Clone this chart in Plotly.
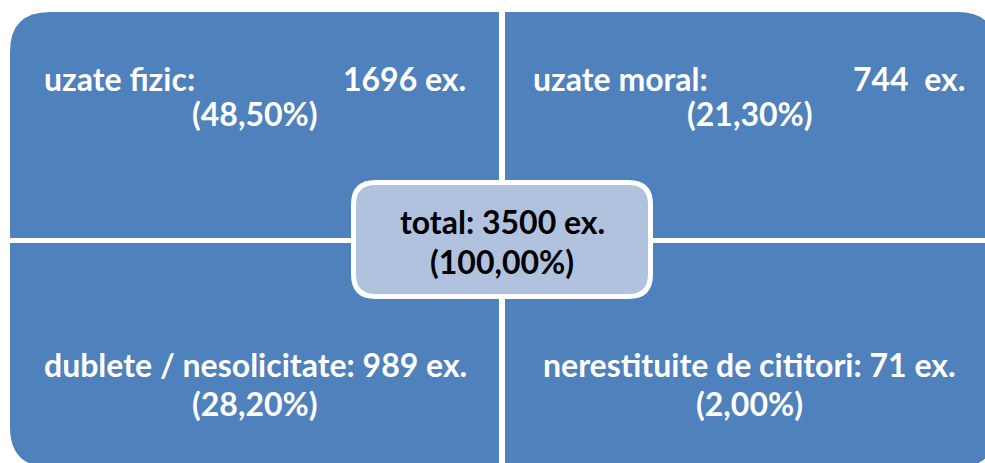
import plotly.graph_objects as go

# ---- data ----
labels = ["uzate fizic:", "uzate moral:", "dublete / nesolicitate:", "nerestituite de cititori:"]
counts = [1696, 744, 989, 71]
percents = [48.50, 21.30, 28.20, 2.00]
total_label = "total:"
total_count = 3500
total_percent = 100.00

W, H = 985, 463
BLUE = "#4F81BD"
CENTER_FILL = "#B0C2DE"
FONT = "Lato"
FS = 32


def fmt_pct(p):
    return "(" + f"{p:.2f}".replace(".", ",") + "%)"


def rounded_rect(x0, y0, x1, y1, r, corners):
    rtl = r if "tl" in corners else 0
    rtr = r if "tr" in corners else 0
    rbr = r if "br" in corners else 0
    rbl = r if "bl" in corners else 0
    p = f"M {x0 + rtl},{y0} L {x1 - rtr},{y0} "
    if rtr:
        p += f"Q {x1},{y0} {x1},{y0 + rtr} "
    p += f"L {x1},{y1 - rbr} "
    if rbr:
        p += f"Q {x1},{y1} {x1 - rbr},{y1} "
    p += f"L {x0 + rbl},{y1} "
    if rbl:
        p += f"Q {x0},{y1} {x0},{y1 - rbl} "
    p += f"L {x0},{y0 + rtl} "
    if rtl:
        p += f"Q {x0},{y0} {x0 + rtl},{y0} "
    return p + "Z"


fig = go.Figure()
fig.add_trace(go.Scatter(x=[0, W], y=[0, H], mode="markers",
                         marker=dict(opacity=0), hoverinfo="skip", showlegend=False))

quads = [
    (10, 12, 499, 238, "tl"),
    (505, 12, 997, 238, "tr"),
    (10, 243, 499, 467, "bl"),
    (505, 243, 997, 467, "br"),
]
shapes = []
for (x0, y0, x1, y1, c) in quads:
    shapes.append(dict(type="path", path=rounded_rect(x0, y0, x1, y1, 40, [c]),
                       xref="x", yref="y", fillcolor=BLUE, line=dict(width=0), layer="below"))
shapes.append(dict(type="path", path=rounded_rect(353.5, 182.5, 650.5, 296.5, 22, ["tl", "tr", "br", "bl"]),
                   xref="x", yref="y", fillcolor=CENTER_FILL, line=dict(color="white", width=5), layer="above"))

ann = []
def add(text, x, y, xanchor="center", color="white"):
    ann.append(dict(text=f"<b>{text}</b>", x=x, y=y, xref="x", yref="y", showarrow=False,
                    xanchor=xanchor, yanchor="middle",
                    font=dict(family=FONT, size=FS, color=color)))

add(labels[0], 42, 78, "left")
add(f"{counts[0]} ex.", 468, 78, "right")
add(fmt_pct(percents[0]), 254.5, 113)
add(labels[1], 531, 78, "left")
add(f"{counts[1]}  ex.", 967, 78, "right")
add(fmt_pct(percents[1]), 750, 113)
add(f"{labels[2]} {counts[2]} ex.", 255, 364)
add(fmt_pct(percents[2]), 254.5, 403)
add(f"{labels[3]} {counts[3]} ex.", 749, 364)
add(fmt_pct(percents[3]), 749, 403)
add(f"{total_label} {total_count} ex.", 502, 221, color="black")
add(fmt_pct(total_percent), 502, 261, color="black")

fig.update_layout(
    width=W, height=H, margin=dict(l=0, r=0, t=0, b=0),
    paper_bgcolor="white", plot_bgcolor="white",
    xaxis=dict(range=[0, W], visible=False, fixedrange=True),
    yaxis=dict(range=[H, 0], visible=False, fixedrange=True),
    shapes=shapes, annotations=ann, showlegend=False,
)
fig.write_html("out.html", config={"displayModeBar": False},
               post_script="document.body.style.margin='0';document.body.style.overflow='hidden';")
